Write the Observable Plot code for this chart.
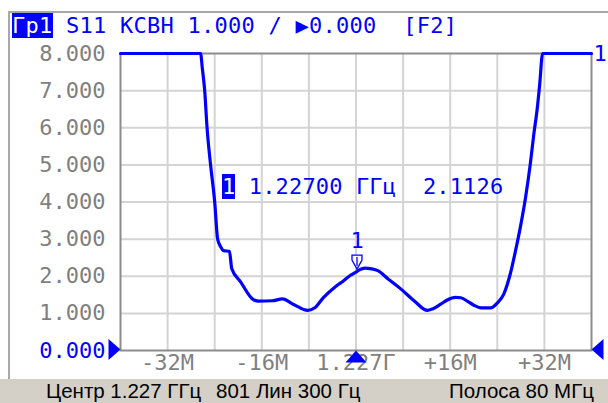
<!DOCTYPE html>
<html>
<head>
<meta charset="utf-8">
<script src="https://cdn.jsdelivr.net/npm/d3@7"></script>
<script src="https://cdn.jsdelivr.net/npm/@observablehq/plot@0.6"></script>
<style>
  html, body { margin: 0; padding: 0; background: #ffffff; }
  #wrap { position: relative; width: 608px; height: 403px; overflow: hidden; background: #ffffff; }
  #panel { position: absolute; left: 8px; top: 11px; width: 640px; height: 400px;
           border-left: 2px solid #a8a8a8; border-top: 2px solid #a8a8a8; box-sizing: border-box; }
  #chart { position: absolute; left: 0; top: 0; }
  .mono { font-family: "DejaVu Sans Mono", monospace; font-size: 22px; white-space: pre; }
  #header { position: absolute; left: 12px; top: 14px; height: 23px; line-height: 23px; color: #0000ff; letter-spacing: 0.25px; }
  .inv { background: #0000ff; color: #ffffff; }
  #readout { position: absolute; left: 222px; top: 176px; height: 22px; line-height: 22px; color: #0000ff; letter-spacing: 0.15px; }
  #status { position: absolute; left: 0; top: 379px; width: 608px; height: 24px; background: #d4d0c8;
            font-family: "Liberation Sans", Arial, sans-serif; font-size: 20.5px; color: #000; }
  #status span { position: absolute; top: 0; line-height: 24px; white-space: pre; }
</style>
</head>
<body>
<div id="wrap">
  <div id="panel"></div>
  <div id="chart"></div>
  <div id="header" class="mono"></div>
  <div id="readout" class="mono"></div>
  <div id="status"></div>
</div>
<script>
// ---- data ----
const freqOffsetMHz = [-40, -26.4, -26.1, -25.7, -25.3, -24.7, -24.0, -23.5, -23.0, -22.5, -21.5, -21.1, -19.6, -17.6, -16.6, -14.2, -12.5, -10.6, -8.2, -7.0, -5.5, -3.5, -2.1, -1.0, 0, 0.8, 1.6, 2.6, 3.7, 5.5, 7.6, 10.0, 12.1, 13.0, 14.4, 15.5, 16.9, 17.8, 18.9, 20.0, 21.2, 22.9, 24.0, 25.1, 26.2, 27.1, 27.9, 28.8, 29.6, 30.2, 30.8, 31.2, 31.7, 40];
const vswr = [8, 8, 7.6, 7.0, 6.0, 5.0, 4.0, 3.0, 2.8, 2.69, 2.67, 2.2, 1.85, 1.39, 1.33, 1.34, 1.39, 1.24, 1.08, 1.15, 1.43, 1.72, 1.88, 2.02, 2.1126, 2.19, 2.22, 2.2, 2.15, 1.92, 1.66, 1.32, 1.08, 1.12, 1.25, 1.36, 1.43, 1.42, 1.33, 1.22, 1.15, 1.15, 1.28, 1.52, 2.06, 2.69, 3.31, 4.12, 5.02, 5.82, 6.54, 7.17, 8, 8];

const xGrid = [-32, -24, -16, -8, 0, 8, 16, 24, 32];
const yGrid = [1, 2, 3, 4, 5, 6, 7];
const yTicks = [0, 1, 2, 3, 4, 5, 6, 7, 8];
const xTicks = [-32, -16, 0, 16, 32];
const xTickLabels = ["-32M", "-16M", "1.227Г", "+16M", "+32M"];

const markerFreqMHz = [0];
const markerValue = [2.1126];
const markerLabel = ["1"];
const markerFreqText = ["1.22700 ГГц"];

const headerTrace = "Гр1";
const headerText = " S11 КСВН 1.000 / ▶0.000  [F2]";
const statusItems = ["Центр 1.227 ГГц", "801 Лин 300 Гц", "Полоса 80 МГц"];

// ---- build ----
const trace = freqOffsetMHz.map((f, i) => ({f, v: vswr[i]}));
const markers = markerFreqMHz.map((f, i) => ({f, v: markerValue[i], label: markerLabel[i]}));
const mono = "DejaVu Sans Mono, monospace";
const blue = "#0000ff";
const gray = "#7f7f7f";

const triUp = {draw(c) { c.moveTo(0, -6); c.lineTo(10.5, 6); c.lineTo(-10.5, 6); c.closePath(); }};
const triRight = {draw(c) { c.moveTo(-12, -10.5); c.lineTo(0, 0); c.lineTo(-12, 10.5); c.closePath(); }};
const triLeft = {draw(c) { c.moveTo(12, -10.5); c.lineTo(0, 0); c.lineTo(12, 10.5); c.closePath(); }};
const markerSym = {draw(c) { c.moveTo(-5, -14); c.lineTo(5, -14); c.lineTo(5, -9); c.lineTo(0, 0); c.lineTo(-5, -9); c.closePath(); c.moveTo(0, -12); c.lineTo(0, -3); }};

const fmt = d3.format(".3f");

const chart = Plot.plot({
  width: 608,
  height: 380,
  marginLeft: 120,
  marginRight: 17,
  marginTop: 53,
  marginBottom: 30,
  x: {domain: [-40, 40], axis: null},
  y: {domain: [0, 8], axis: null},
  style: {background: "transparent", overflow: "visible"},
  marks: [
    Plot.gridX(xGrid, {stroke: "#d4d4d4", strokeOpacity: 1, strokeWidth: 2}),
    Plot.gridY(yGrid, {stroke: "#d4d4d4", strokeOpacity: 1, strokeWidth: 2}),
    Plot.frame({stroke: "#8c8c8c", strokeWidth: 2}),
    Plot.text(yTicks.filter(d => d !== 0), {y: d => d, text: d => fmt(d), frameAnchor: "left", textAnchor: "end", dx: -15, fill: gray, fontSize: 22, fontFamily: mono}),
    Plot.text(yTicks.filter(d => d === 0), {y: d => d, text: d => fmt(d), frameAnchor: "left", textAnchor: "end", dx: -15, fill: blue, fontSize: 22, fontFamily: mono}),
    Plot.text(xTicks, {x: d => d, text: (d, i) => xTickLabels[i], frameAnchor: "bottom", lineAnchor: "middle", dy: 12, fill: gray, fontSize: 22, fontFamily: mono}),
    Plot.line(trace, {x: "f", y: "v", stroke: blue, strokeWidth: 3.2, strokeLinejoin: "round", curve: "monotone-x"}),
    Plot.dot([0], {x: d => d, y: 0, symbol: triUp, fill: blue, stroke: "none", dy: 6}),
    Plot.dot([-40], {x: d => d, y: 0, symbol: triRight, fill: blue, stroke: "none", dy: -1}),
    Plot.dot([40], {x: d => d, y: 0, symbol: triLeft, fill: blue, stroke: "none", dy: -1}),
    Plot.dot(markers, {x: "f", y: "v", symbol: markerSym, fill: "#ffffff", stroke: blue, strokeWidth: 1.3, dy: -3, dx: 1}),
    Plot.text(markers, {x: "f", y: "v", text: "label", dy: -31, dx: 1, fill: blue, fontSize: 22, fontFamily: mono}),
    Plot.text(trace.slice(-1), {x: "f", y: "v", text: () => markerLabel[0], textAnchor: "start", dx: 2, fill: blue, fontSize: 22, fontFamily: mono})
  ]
});
document.getElementById("chart").appendChild(chart);

const header = document.getElementById("header");
const inv = document.createElement("span"); inv.className = "inv"; inv.textContent = headerTrace;
header.appendChild(inv);
header.appendChild(document.createTextNode(headerText));

const readout = document.getElementById("readout");
const rb = document.createElement("span"); rb.className = "inv"; rb.textContent = markerLabel[0];
readout.appendChild(rb);
readout.appendChild(document.createTextNode(" " + markerFreqText[0] + "  " + d3.format(".4f")(markerValue[0])));

const status = document.getElementById("status");
const statusLeft = [46, 216, 449];
statusItems.forEach((t, i) => {
  const s = document.createElement("span"); s.textContent = t; s.style.left = statusLeft[i] + "px";
  status.appendChild(s);
});
</script>
</body>
</html>
